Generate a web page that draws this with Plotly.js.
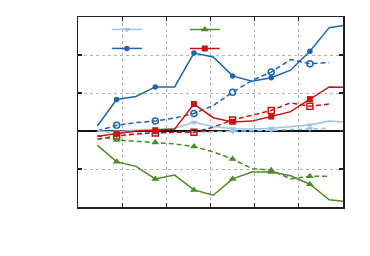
<!DOCTYPE html>
<html>
<head>
<meta charset="utf-8">
<script src="https://cdn.plot.ly/plotly-3.0.1.min.js"></script>
<style>html,body{margin:0;padding:0;background:#fff;}#chart{width:370px;height:256px;}</style>
</head>
<body>
<div id="chart"></div>
<script>
// periods (index along x)
var periods = [1,2,3,4,5,6,7,8,9,10,11,12,13,14];
var periodsDashed = [1,2,3,4,5,6,7,8,9,10,11,12,13];
var xTicks = [16/7, 32/7, 48/7, 64/7, 80/7];
var yTicks = [-2,-1,0,1,2,3];

var lightSolid = [0.00,-0.02,0.02,0.05,0.07,0.23,0.12,0.06,0.05,0.07,0.11,0.16,0.26,0.23];
var lightDash  = [0.00,-0.06,-0.05,-0.05,-0.04,-0.04,-0.02,-0.01,0.00,0.02,0.04,0.06,0.07];
var darkSolid  = [0.13,0.83,0.91,1.16,1.16,2.05,1.95,1.45,1.31,1.40,1.60,2.10,2.72,2.80];
var darkDash   = [0.00,0.15,0.22,0.26,0.34,0.46,0.67,1.02,1.33,1.55,1.88,1.77,1.80];
var redSolid   = [-0.14,-0.07,0.00,0.02,0.05,0.71,0.35,0.24,0.26,0.38,0.51,0.84,1.16,1.15];
var redDash    = [-0.22,-0.13,-0.08,-0.05,-0.03,-0.03,0.10,0.29,0.42,0.54,0.74,0.65,0.71];
var greenSolid = [-0.37,-0.81,-0.93,-1.26,-1.16,-1.55,-1.69,-1.26,-1.08,-1.08,-1.18,-1.40,-1.81,-1.86];
var greenDash  = [-0.12,-0.24,-0.27,-0.30,-0.34,-0.41,-0.55,-0.74,-0.99,-1.03,-1.26,-1.19,-1.19];

var C = {light:'#9dc3e6', dark:'#1f64ad', red:'#c81414', green:'#4f8a2b'};

function odd(arr){ return arr.filter(function(v,i){ return i % 2 === 1; }); }

var traces = [];
function addSeries(xs, ys, color, dash, symbol, size, lw){
  traces.push({x:xs, y:ys, mode:'lines', type:'scatter', showlegend:false,
    line:{color:color, width:1.5, dash:dash}, hoverinfo:'skip'});
  traces.push({x:odd(xs), y:odd(ys), mode:'markers', type:'scatter', showlegend:false,
    marker:{color:color, symbol:symbol, size:size, line:{color:color, width:lw}}, hoverinfo:'skip'});
}
addSeries(periodsDashed, lightDash, C.light, '5px,3px', 'triangle-down', 6, 0);
addSeries(periodsDashed, darkDash, C.dark, '5px,3px', 'circle-open', 6, 1.5);
addSeries(periodsDashed, redDash, C.red, '5px,3px', 'square-open', 6, 1.5);
addSeries(periodsDashed, greenDash, C.green, '5px,3px', 'triangle-up', 7, 0);
addSeries(periods, lightSolid, C.light, 'solid', 'triangle-down', 6, 0);
addSeries(periods, redSolid, C.red, 'solid', 'square', 6, 0);
addSeries(periods, greenSolid, C.green, 'solid', 'triangle-up', 7, 0);
addSeries(periods, darkSolid, C.dark, 'solid', 'circle', 5.5, 0);

// legend-only entries
function legendEntry(color, symbol, size, leg){
  traces.push({x:[null], y:[null], mode:'lines+markers', type:'scatter', name:' ', legend:leg,
    line:{color:color, width:1.5}, marker:{color:color, symbol:symbol, size:size}});
}
legendEntry(C.light, 'triangle-down', 6, 'legend');
legendEntry(C.dark, 'circle', 5.5, 'legend');
legendEntry(C.green, 'triangle-up', 7, 'legend2');
legendEntry(C.red, 'square', 6, 'legend2');

var axisCommon = {showline:true, mirror:'allticks', linecolor:'#222', linewidth:1.5,
  ticks:'inside', ticklen:4, tickwidth:1.2, tickcolor:'#222', showticklabels:false,
  showgrid:true, gridcolor:'#b5b5b5', griddash:'dot', gridwidth:1};

var layout = {
  width:370, height:256,
  margin:{l:78, r:27, t:17, b:49},
  paper_bgcolor:'#fff', plot_bgcolor:'#fff',
  xaxis:Object.assign({}, axisCommon, {range:[0, 96/7], tickmode:'array', tickvals:xTicks, zeroline:false}),
  yaxis:Object.assign({}, axisCommon, {range:[-2,3], tickmode:'array', tickvals:yTicks,
    zeroline:true, zerolinecolor:'#111', zerolinewidth:1.5}),
  shapes:[{type:'rect', xref:'paper', yref:'paper', x0:0, x1:0.547, y0:0.789, y1:1,
    fillcolor:'#fff', line:{width:0}, layer:'between'}],
  legend:{x:0.109, xanchor:'left', y:1.011, yanchor:'top', bgcolor:'rgba(0,0,0,0)', font:{size:12}, tracegroupgap:0},
  legend2:{x:0.403, xanchor:'left', y:1.011, yanchor:'top', bgcolor:'rgba(0,0,0,0)', font:{size:12}, tracegroupgap:0},
  showlegend:true
};

Plotly.newPlot('chart', traces, layout, {staticPlot:true, displayModeBar:false});
</script>
</body>
</html>
